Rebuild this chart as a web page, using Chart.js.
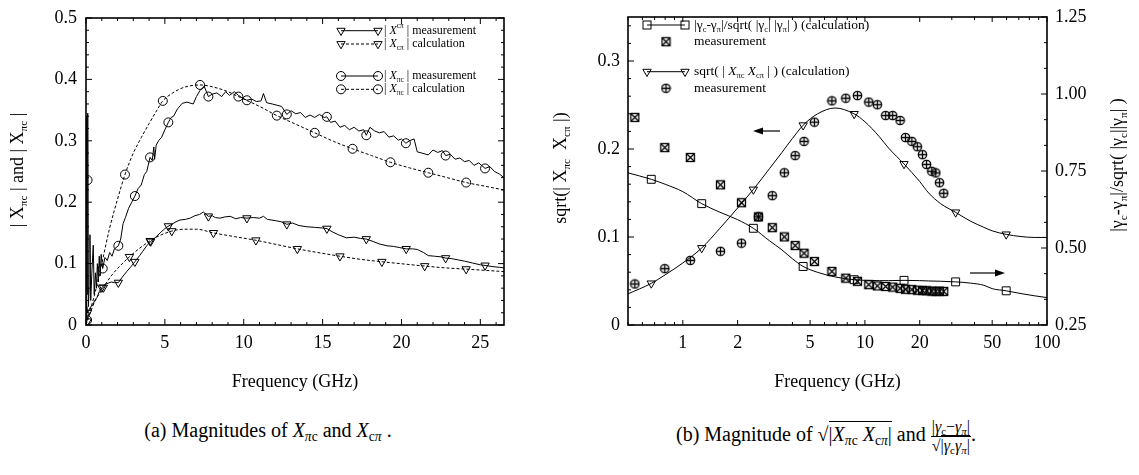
<!DOCTYPE html>
<html>
<head>
<meta charset="utf-8">
<script src="https://cdn.jsdelivr.net/npm/chart.js@4.4.1/dist/chart.umd.min.js"></script>
<style>
  body { margin: 0; background: #fff; width: 1139px; height: 475px; overflow: hidden; position: relative;
         font-family: "Liberation Serif", "Times New Roman", serif; color: #000; }
  canvas { position: absolute; top: 0; }
  #cvA { left: 0; }
  #cvB { left: 540px; }
  .cap { position: absolute; font-size: 20px; white-space: nowrap; text-align: center; line-height: 24px; }
  #capA { left: 0; width: 536px; top: 418px; }
  #capB { left: 526px; width: 600px; top: 418px; }
  .cap sub { font-size: 68%; vertical-align: -0.28em; line-height: 0; }
  .ov { border-top: 1.4px solid #000; padding-top: 1px; }
  .rad { font-style: normal; }
  .frac { display: inline-block; vertical-align: middle; text-align: center; font-size: 16px; line-height: 18px; }
  .num { display: block; border-bottom: 1.6px solid #000; padding: 0 1px; }
  .den { display: block; }
</style>
</head>
<body>
<canvas id="cvA" width="540" height="400"></canvas>
<canvas id="cvB" width="599" height="400"></canvas>
<div class="cap" id="capA">(a) Magnitudes of <i>X</i><sub><i>π</i>c</sub> and <i>X</i><sub>c<i>π</i></sub> .</div>
<div class="cap" id="capB">(b) Magnitude of <span class="rad">√</span><span class="ov">|<i>X</i><sub><i>π</i>c</sub> <i>X</i><sub>c<i>π</i></sub>|</span> and <span class="frac"><span class="num">|<i>γ</i><sub>c</sub>−<i>γ</i><sub><i>π</i></sub>|</span><span class="den">√<span class="ov">|<i>γ</i><sub>c</sub><i>γ</i><sub><i>π</i></sub>|</span></span></span>.</div>
<script>
const FONT = '"Liberation Serif", "Times New Roman", serif';

// ---------- panel (a): |X_pi c| and |X_c pi| versus frequency ----------
const piMeasFreq = [0, 0.03, 0.05, 0.07, 0.1, 0.12, 0.15, 0.2, 0.25, 0.3, 0.38, 0.46, 0.52, 0.6, 0.66, 0.72, 0.78, 0.84, 0.9, 0.96,
  1.06, 1.2, 1.35, 1.5, 1.65, 1.8, 2.05, 2.2, 2.35, 2.5, 2.7, 2.9, 3.1, 3.3, 3.5, 3.7, 3.85, 4.06, 4.2, 4.3, 4.35, 4.45, 4.6, 4.8,
  5.0, 5.22, 5.4, 5.55, 5.8, 6.1, 6.4, 6.8, 7.0, 7.23, 7.49, 7.76, 8.0, 8.3, 8.6, 8.85, 9.1, 9.4, 9.66, 9.9, 10.2, 10.5, 10.8,
  11.1, 11.25, 11.45, 11.8, 12.1, 12.4, 12.73, 13.0, 13.3, 13.6, 13.9, 14.2, 14.5, 14.8, 15.1, 15.27, 15.5, 15.8, 16.1, 16.4,
  16.7, 17.0, 17.3, 17.6, 17.77, 18.0, 18.3, 18.6, 18.9, 19.2, 19.5, 19.8, 20.0, 20.28, 20.5, 20.8, 21.0, 21.3, 21.7, 22.0,
  22.3, 22.6, 22.8, 23.1, 23.4, 23.7, 24.0, 24.3, 24.6, 24.9, 25.3, 25.6, 25.9, 26.2, 26.5];
const piMeasVal = [0.01, 0.2, 0.34, 0.05, 0.236, 0.345, 0.03, 0.06, 0.147, 0.04, 0.09, 0.13, 0.05, 0.085, 0.06, 0.1, 0.07, 0.112, 0.08, 0.115,
  0.092, 0.11, 0.105, 0.118, 0.112, 0.124, 0.129, 0.14, 0.165, 0.175, 0.19, 0.2, 0.21, 0.222, 0.228, 0.245, 0.25, 0.273, 0.268, 0.29, 0.27, 0.293, 0.3, 0.306,
  0.318, 0.33, 0.338, 0.34, 0.352, 0.361, 0.363, 0.36, 0.372, 0.382, 0.389, 0.372, 0.376, 0.378, 0.372, 0.38, 0.374, 0.38, 0.374, 0.37, 0.366, 0.368, 0.364,
  0.365, 0.377, 0.362, 0.36, 0.358, 0.356, 0.343, 0.349, 0.344, 0.346, 0.338, 0.342, 0.338, 0.343, 0.338, 0.339, 0.33, 0.332, 0.322, 0.325,
  0.318, 0.322, 0.316, 0.318, 0.309, 0.322, 0.316, 0.313, 0.315, 0.306, 0.308, 0.301, 0.303, 0.296, 0.3, 0.303, 0.282, 0.28, 0.277, 0.285,
  0.281, 0.284, 0.276, 0.278, 0.27, 0.272, 0.266, 0.268, 0.26, 0.264, 0.255, 0.258, 0.25, 0.246, 0.24];
const piMeasMarks = [0.1, 1.06, 2.05, 3.1, 4.06, 5.22, 7.76, 10.2, 12.73, 15.27, 17.77, 20.28, 22.8, 25.3];

const piCalcFreq = [0, 0.07, 0.5, 1.0, 1.5, 2.0, 2.47, 3.0, 3.5, 4.0, 4.5, 4.87, 5.5, 6.0, 6.5, 7.23, 8.0, 9.0, 9.66, 11.0,
  12.1, 13.3, 14.5, 15.7, 16.9, 18.1, 19.3, 20.5, 21.7, 22.9, 24.1, 25.3, 26.5];
const piCalcVal = [0, 0.008, 0.045, 0.1, 0.158, 0.205, 0.245, 0.28, 0.305, 0.328, 0.35, 0.365, 0.378, 0.385, 0.389, 0.391, 0.388, 0.38, 0.372, 0.356,
  0.341, 0.327, 0.313, 0.299, 0.287, 0.276, 0.265, 0.256, 0.248, 0.24, 0.232, 0.226, 0.22];
const piCalcMarks = [0.07, 2.47, 4.87, 7.23, 9.66, 12.1, 14.5, 16.9, 19.3, 21.7, 24.1];

const cpMeasFreq = [0, 0.05, 0.1, 0.2, 0.3, 0.42, 0.55, 0.7, 0.85, 1.0, 1.2, 1.4, 1.6, 1.8, 2.05, 2.3, 2.58, 2.85, 3.1, 3.4, 3.6,
  3.85, 4.1, 4.38, 4.7, 5.0, 5.22, 5.5, 5.7, 5.96, 6.3, 6.6, 6.9, 7.2, 7.44, 7.76, 8.0, 8.2, 8.5, 8.8, 9.14, 9.5, 9.8, 10.2,
  10.6, 11.0, 11.25, 11.5, 12.0, 12.4, 12.73, 13.1, 13.5, 14.0, 14.5, 15.0, 15.27, 15.6, 16.0, 16.5, 17.0, 17.4, 17.77, 18.2,
  18.6, 19.08, 19.5, 19.9, 20.3, 20.7, 21.0, 21.4, 21.7, 22.1, 22.5, 22.8, 23.2, 23.6, 24.0, 24.5, 25.0, 25.3, 25.8, 26.2, 26.5];
const cpMeasVal = [0.005, 0.03, 0.02, 0.025, 0.03, 0.032, 0.04, 0.045, 0.055, 0.061, 0.066, 0.068, 0.07, 0.069, 0.069, 0.078, 0.087, 0.095, 0.103, 0.113, 0.12,
  0.129, 0.136, 0.142, 0.15, 0.157, 0.161, 0.165, 0.168, 0.171, 0.172, 0.174, 0.178, 0.18, 0.184, 0.177, 0.178, 0.175, 0.174, 0.176, 0.177, 0.173, 0.175, 0.174,
  0.175, 0.174, 0.177, 0.172, 0.17, 0.168, 0.164, 0.166, 0.162, 0.16, 0.159, 0.158, 0.157, 0.152, 0.147, 0.142, 0.143, 0.141, 0.14, 0.136,
  0.132, 0.129, 0.128, 0.126, 0.124, 0.124, 0.123, 0.118, 0.113, 0.112, 0.111, 0.109, 0.108, 0.106, 0.104, 0.101, 0.098, 0.097, 0.095, 0.094, 0.093];
const cpMeasMarks = [0.1, 1.0, 2.05, 3.1, 4.1, 5.22, 7.76, 10.2, 12.73, 15.27, 17.77, 20.3, 22.8, 25.3];

const cpCalcFreq = [0, 0.08, 0.5, 1.1, 1.6, 2.0, 2.75, 3.4, 4.06, 4.7, 5.44, 6.2, 7.0, 8.08, 9.4, 10.77, 12.1, 13.4, 14.7,
  16.1, 17.4, 18.76, 20.1, 21.47, 22.8, 24.1, 25.3, 26.5];
const cpCalcVal = [0, 0.006, 0.035, 0.061, 0.08, 0.092, 0.111, 0.125, 0.137, 0.146, 0.153, 0.156, 0.156, 0.15, 0.144, 0.138, 0.131, 0.124, 0.118,
  0.112, 0.107, 0.103, 0.0995, 0.096, 0.093, 0.091, 0.089, 0.087];
const cpCalcMarks = [0.08, 1.1, 2.75, 4.06, 5.44, 8.08, 10.77, 13.4, 16.1, 18.76, 21.47, 24.1];

const xTicksA = [0, 5, 10, 15, 20, 25];
const yTicksA = [0, 0.1, 0.2, 0.3, 0.4, 0.5];

// ---------- panel (b): sqrt(|X_pi c X_c pi|) and |γc-γπ|/sqrt(|γc||γπ|) ----------
const calcFreq = [0.5, 0.671, 0.8, 1.0, 1.27, 1.6, 2.0, 2.44, 3.0, 3.5, 4.0, 4.58, 5.5, 6.86, 8.73, 10, 12, 13.5, 16.4, 20,
  22.4, 26, 31.5, 38, 45, 50, 59.7, 72, 85, 100];
const sqrtCalcVal = [0.0354, 0.0473, 0.057, 0.0705, 0.0875, 0.11, 0.133, 0.154, 0.178, 0.196, 0.212, 0.227, 0.24, 0.2466, 0.2399, 0.231, 0.214, 0.201, 0.183, 0.163,
  0.15, 0.138, 0.128, 0.118, 0.111, 0.107, 0.103, 0.1005, 0.0995, 0.0995];
const gammaCalcVal = [0.744, 0.723, 0.707, 0.683, 0.644, 0.616, 0.592, 0.564, 0.523, 0.494, 0.465, 0.44, 0.421, 0.406, 0.397, 0.395, 0.394, 0.394, 0.395, 0.394,
  0.393, 0.392, 0.39, 0.386, 0.379, 0.368, 0.361, 0.352, 0.345, 0.339];
const sqrtCalcMarks = [0.671, 1.27, 2.44, 4.58, 8.73, 16.4, 31.5, 59.7];
const gammaCalcMarks = [0.671, 1.27, 2.44, 4.58, 8.73, 16.4, 31.5, 59.7];

const measFreq = [0.545, 0.796, 1.10, 1.61, 2.10, 2.60, 3.10, 3.61, 4.14, 4.63, 5.28, 6.59, 7.85, 9.1, 10.5, 11.7, 13.0, 14.2,
  15.6, 16.7, 18.1, 19.4, 20.7, 21.8, 23.3, 24.5, 25.7, 27.1];
const sqrtMeasVal = [0.0466, 0.064, 0.0734, 0.0838, 0.093, 0.123, 0.147, 0.173, 0.1925, 0.2086, 0.2305, 0.2547, 0.2577, 0.2607, 0.2533, 0.2503, 0.238, 0.238,
  0.2324, 0.213, 0.2086, 0.2026, 0.1936, 0.1825, 0.1747, 0.1728, 0.1617, 0.1497];
const gammaMeasVal = [0.924, 0.826, 0.794, 0.705, 0.647, 0.601, 0.566, 0.536, 0.508, 0.483, 0.456, 0.424, 0.402, 0.392, 0.381, 0.377, 0.375, 0.373,
  0.369, 0.366, 0.365, 0.363, 0.362, 0.361, 0.36, 0.359, 0.36, 0.359];

const xTicksB = [1, 2, 5, 10, 20, 50, 100];
const yTicksB = [0, 0.1, 0.2, 0.3];
const y2TicksB = [0.25, 0.5, 0.75, 1.0, 1.25];

// ---------- helpers ----------
const zip = (fs, vs) => fs.map((f, i) => ({ x: f, y: vs[i] }));
const pick = (fs, vs, ms) => ms.map(m => ({ x: m, y: vs[fs.indexOf(m)] }));
const tickFont = { family: FONT, size: 18, lineHeight: 1 };

function markerCanvas(kind) {
  const c = document.createElement('canvas');
  c.width = 11; c.height = 11;
  const g = c.getContext('2d');
  g.strokeStyle = '#000'; g.lineWidth = 1.3;
  if (kind === 'xsq') {
    g.strokeRect(1.5, 1.5, 8, 8);
    g.beginPath(); g.moveTo(1.5, 1.5); g.lineTo(9.5, 9.5); g.moveTo(9.5, 1.5); g.lineTo(1.5, 9.5); g.stroke();
  } else {
    g.beginPath(); g.arc(5.5, 5.5, 4.2, 0, Math.PI * 2); g.stroke();
    g.beginPath(); g.moveTo(1.3, 5.5); g.lineTo(9.7, 5.5); g.moveTo(5.5, 1.3); g.lineTo(5.5, 9.7); g.stroke();
  }
  return c;
}
const xsqImg = markerCanvas('xsq');
const pcircImg = markerCanvas('pcirc');

function lineSet(data, dashed, yAxisID, smooth) {
  return { data, showLine: true, pointRadius: 0, borderColor: '#000', borderWidth: 1, fill: false,
           borderDash: dashed ? [3, 2] : [], tension: smooth ? 0.4 : 0,
           cubicInterpolationMode: smooth ? 'monotone' : 'default', yAxisID: yAxisID || 'y', order: 2 };
}
function markSet(data, style, yAxisID) {
  const s = { data, showLine: false, borderColor: '#000', borderWidth: 1, backgroundColor: 'rgba(0,0,0,0)',
              yAxisID: yAxisID || 'y', order: 0 };
  if (style === 'tri') { s.pointStyle = 'triangle'; s.rotation = 180; s.pointRadius = 4.8; }
  else if (style === 'circ') { s.pointStyle = 'circle'; s.pointRadius = 4.5; }
  else if (style === 'sq') { s.pointStyle = 'rect'; s.pointRadius = 5.6; }
  else if (style === 'xsq') { s.pointStyle = xsqImg; s.pointRadius = 5; }
  else if (style === 'pcirc') { s.pointStyle = pcircImg; s.pointRadius = 5; }
  return s;
}

// text made of runs: n normal, i italic, b subscript, p superscript
function rich(ctx, runs, x, y, base, align) {
  const parts = runs.map(([t, k]) => {
    const small = k === 'b' || k === 'p';
    const size = small ? base * 0.62 : base;
    const font = (k === 'i' ? 'italic ' : '') + size + 'px ' + FONT;
    ctx.font = font;
    return { t, font, dy: k === 'b' ? base * 0.32 : (k === 'p' ? -base * 0.38 : 0), w: ctx.measureText(t).width };
  });
  const total = parts.reduce((s, p) => s + p.w, 0);
  let cx = align === 'center' ? x - total / 2 : x;
  ctx.textAlign = 'left'; ctx.textBaseline = 'middle'; ctx.fillStyle = '#000';
  for (const p of parts) { ctx.font = p.font; ctx.fillText(p.t, cx, y + p.dy); cx += p.w; }
}
function richUp(ctx, runs, x, y, base) {
  ctx.save(); ctx.translate(x, y); ctx.rotate(-Math.PI / 2); rich(ctx, runs, 0, 0, base, 'center'); ctx.restore();
}
function seg(ctx, x1, y1, x2, y2) { ctx.beginPath(); ctx.moveTo(x1, y1); ctx.lineTo(x2, y2); ctx.stroke(); }
function mark(ctx, kind, x, y) {
  ctx.save(); ctx.strokeStyle = '#000'; ctx.lineWidth = 1; ctx.setLineDash([]);
  if (kind === 'tri') {
    const r = 4.8; ctx.beginPath();
    ctx.moveTo(x, y + r); ctx.lineTo(x - r * 0.866, y - r / 2); ctx.lineTo(x + r * 0.866, y - r / 2); ctx.closePath(); ctx.stroke();
  } else if (kind === 'circ') {
    ctx.beginPath(); ctx.arc(x, y, 4.5, 0, Math.PI * 2); ctx.stroke();
  } else if (kind === 'sq') {
    ctx.strokeRect(x - 4, y - 4, 8, 8);
  } else if (kind === 'xsq') {
    ctx.drawImage(xsqImg, x - 5.5, y - 5.5);
  } else if (kind === 'pcirc') {
    ctx.drawImage(pcircImg, x - 5.5, y - 5.5);
  }
  ctx.restore();
}
function legendLine(ctx, kind, dashed, x1, x2, y) {
  ctx.save(); ctx.strokeStyle = '#000'; ctx.lineWidth = 1; ctx.setLineDash(dashed ? [3, 2] : []);
  seg(ctx, x1, y, x2, y); ctx.restore();
  mark(ctx, kind, x1, y); mark(ctx, kind, x2, y);
}
function arrow(ctx, xTail, xHead, y) {
  const dir = Math.sign(xHead - xTail);
  ctx.save(); ctx.strokeStyle = '#000'; ctx.fillStyle = '#000'; ctx.lineWidth = 1.2;
  seg(ctx, xTail, y, xHead - dir * 8, y);
  ctx.beginPath(); ctx.moveTo(xHead, y); ctx.lineTo(xHead - dir * 10, y - 3.5); ctx.lineTo(xHead - dir * 10, y + 3.5); ctx.closePath(); ctx.fill();
  ctx.restore();
}
function fixTicks(list) { return s => { s.ticks = list.map(v => ({ value: v })); }; }

// inward tick marks on the four sides plus the surrounding box
function boxAndTicks(ctx, a, xs, ysLeft, ysRight) {
  ctx.save(); ctx.strokeStyle = '#000'; ctx.lineWidth = 1;
  for (const [p, L] of xs) { seg(ctx, p, a.bottom, p, a.bottom - L); seg(ctx, p, a.top, p, a.top + L); }
  for (const [p, L] of ysLeft) seg(ctx, a.left, p, a.left + L, p);
  for (const [p, L] of ysRight) seg(ctx, a.right, p, a.right - L, p);
  ctx.lineWidth = 1.6;
  ctx.strokeRect(a.left, a.top, a.right - a.left, a.bottom - a.top);
  ctx.restore();
}

const paperA = {
  id: 'paperA',
  afterDraw(chart) {
    const { ctx, chartArea: a } = chart;
    const x = chart.scales.x, y = chart.scales.y;
    const xs = [], ys = [];
    for (let f = 0; f <= 26; f++) xs.push([x.getPixelForValue(f), f % 5 === 0 ? 6 : 3]);
    for (let k = 0; k <= 25; k++) ys.push([y.getPixelForValue(k * 0.02), k % 5 === 0 ? 6 : 3]);
    boxAndTicks(ctx, a, xs, ys, ys);

    ctx.save();
    ctx.fillStyle = '#000'; ctx.font = '18px ' + FONT; ctx.textAlign = 'center'; ctx.textBaseline = 'middle';
    ctx.fillText('Frequency (GHz)', (a.left + a.right) / 2, 382);
    richUp(ctx, [['| X', 'n'], ['πc', 'b'], [' | and | X', 'n'], ['πc', 'b'], [' |', 'n']], 18, 170, 18);

    legendLine(ctx, 'tri', false, 341, 378, 30.7);
    legendLine(ctx, 'tri', true, 341, 378, 44);
    legendLine(ctx, 'circ', false, 341, 378, 76);
    legendLine(ctx, 'circ', true, 341, 378, 89.3);
    rich(ctx, [['| ', 'n'], ['X', 'i'], ['cπ', 'p'], [' | measurement', 'n']], 384, 30.7, 12, 'left');
    rich(ctx, [['| ', 'n'], ['X', 'i'], ['cπ', 'b'], [' | calculation', 'n']], 384, 44, 12, 'left');
    rich(ctx, [['| ', 'n'], ['X', 'i'], ['πc', 'b'], [' | measurement', 'n']], 384, 76, 12, 'left');
    rich(ctx, [['| ', 'n'], ['X', 'i'], ['πc', 'b'], [' | calculation', 'n']], 384, 89.3, 12, 'left');
    ctx.restore();
  }
};

const paperB = {
  id: 'paperB',
  afterDraw(chart) {
    const { ctx, chartArea: a } = chart;
    const x = chart.scales.x, y = chart.scales.y, y2 = chart.scales.y2;
    const xs = [];
    for (let d = -1; d <= 1; d++) {
      for (let m = 1; m <= 9; m++) {
        const f = m * Math.pow(10, d);
        if (f < 0.5 || f > 100) continue;
        xs.push([x.getPixelForValue(f), xTicksB.includes(+f.toPrecision(3)) ? 5 : 3]);
      }
    }
    xs.push([x.getPixelForValue(100), 5]);
    const ysL = [], ysR = [];
    for (let k = 0; k <= 17; k++) ysL.push([y.getPixelForValue(k * 0.02), k % 5 === 0 ? 6 : 3]);
    for (let k = 0; k <= 12; k++) ysR.push([y2.getPixelForValue(0.25 + k * 0.25 / 3), k % 3 === 0 ? 6 : 3]);
    boxAndTicks(ctx, a, xs, ysL, ysR);

    ctx.save();
    ctx.translate(-540, 0);
    ctx.fillStyle = '#000'; ctx.font = '18px ' + FONT; ctx.textAlign = 'center'; ctx.textBaseline = 'middle';
    ctx.fillText('Frequency (GHz)', (a.left + a.right) / 2 + 540, 382);
    richUp(ctx, [['sqrt(| X', 'n'], ['πc', 'b'], ['  X', 'n'], ['cπ', 'b'], [' |)', 'n']], 561, 168, 18);
    richUp(ctx, [['|γ', 'n'], ['c', 'b'], ['-γ', 'n'], ['π', 'b'], ['|/sqrt( |γ', 'n'], ['c', 'b'], ['||γ', 'n'], ['π', 'b'], ['| )', 'n']], 1118, 165, 18);

    legendLine(ctx, 'sq', false, 647, 685, 25);
    mark(ctx, 'xsq', 666, 41.7);
    legendLine(ctx, 'tri', false, 647, 685, 71.7);
    mark(ctx, 'pcirc', 666, 88.3);
    rich(ctx, [['|γ', 'n'], ['c', 'b'], ['-γ', 'n'], ['π', 'b'], ['|/sqrt( |γ', 'n'], ['c', 'b'], ['| |γ', 'n'], ['π', 'b'], ['| ) (calculation)', 'n']], 694, 25, 13.5, 'left');
    rich(ctx, [['measurement', 'n']], 694, 41.7, 13.5, 'left');
    rich(ctx, [['sqrt( | ', 'n'], ['X', 'i'], ['πc', 'b'], [' X', 'i'], ['cπ', 'b'], [' | ) (calculation)', 'n']], 694, 71.7, 13.5, 'left');
    rich(ctx, [['measurement', 'n']], 694, 88.3, 13.5, 'left');

    arrow(ctx, 780, 753, 131);
    arrow(ctx, 970, 1005, 273);
    ctx.restore();
  }
};

const common = {
  responsive: false, animation: false, devicePixelRatio: 1,
  plugins: { legend: { display: false }, tooltip: { enabled: false } }
};
const axisBase = (extra) => Object.assign({
  grid: { display: false, drawTicks: false }, border: { display: false },
}, extra);

new Chart(document.getElementById('cvA'), {
  type: 'scatter',
  data: {
    datasets: [
      markSet(pick(piMeasFreq, piMeasVal, piMeasMarks), 'circ'),
      markSet(pick(piCalcFreq, piCalcVal, piCalcMarks), 'circ'),
      markSet(pick(cpMeasFreq, cpMeasVal, cpMeasMarks), 'tri'),
      markSet(pick(cpCalcFreq, cpCalcVal, cpCalcMarks), 'tri'),
      lineSet(zip(piMeasFreq, piMeasVal), false),
      lineSet(zip(piCalcFreq, piCalcVal), true, 'y', true),
      lineSet(zip(cpMeasFreq, cpMeasVal), false),
      lineSet(zip(cpCalcFreq, cpCalcVal), true, 'y', true)
    ]
  },
  options: Object.assign({}, common, {
    layout: { padding: { top: 9, right: 36, left: 0, bottom: 0 } },
    scales: {
      x: axisBase({ type: 'linear', min: 0, max: 26.5,
        ticks: { font: tickFont, color: '#000', padding: 9, maxRotation: 0, autoSkip: false, callback: v => String(v) },
        afterBuildTicks: fixTicks(xTicksA), afterFit: s => { s.height = 75; } }),
      y: axisBase({ type: 'linear', min: 0, max: 0.5,
        ticks: { font: tickFont, color: '#000', padding: 9, autoSkip: false, callback: v => v === 0 ? '0' : v.toFixed(1) },
        afterBuildTicks: fixTicks(yTicksA), afterFit: s => { s.width = 86; } })
    }
  }),
  plugins: [paperA]
});

new Chart(document.getElementById('cvB'), {
  type: 'scatter',
  data: {
    datasets: [
      markSet(zip(measFreq, gammaMeasVal), 'xsq', 'y2'),
      markSet(zip(measFreq, sqrtMeasVal), 'pcirc', 'y'),
      markSet(pick(calcFreq, gammaCalcVal, gammaCalcMarks), 'sq', 'y2'),
      markSet(pick(calcFreq, sqrtCalcVal, sqrtCalcMarks), 'tri', 'y'),
      lineSet(zip(calcFreq, gammaCalcVal), false, 'y2', true),
      lineSet(zip(calcFreq, sqrtCalcVal), false, 'y', true)
    ]
  },
  options: Object.assign({}, common, {
    layout: { padding: { top: 9, right: 0, left: 0, bottom: 0 } },
    scales: {
      x: axisBase({ type: 'logarithmic', min: 0.5, max: 100,
        ticks: { font: tickFont, color: '#000', padding: 9, maxRotation: 0, autoSkip: false, callback: v => String(v) },
        afterBuildTicks: fixTicks(xTicksB), afterFit: s => { s.height = 75; } }),
      y: axisBase({ type: 'linear', position: 'left', min: 0, max: 0.35,
        ticks: { font: tickFont, color: '#000', padding: 8, autoSkip: false, callback: v => v === 0 ? '0' : v.toFixed(1) },
        afterBuildTicks: fixTicks(yTicksB), afterFit: s => { s.width = 88; } }),
      y2: axisBase({ type: 'linear', position: 'right', min: 0.25, max: 1.25,
        ticks: { font: tickFont, color: '#000', padding: 8, autoSkip: false, callback: v => v.toFixed(2) },
        afterBuildTicks: fixTicks(y2TicksB), afterFit: s => { s.width = 92; } })
    }
  }),
  plugins: [paperB]
});
</script>
</body>
</html>
